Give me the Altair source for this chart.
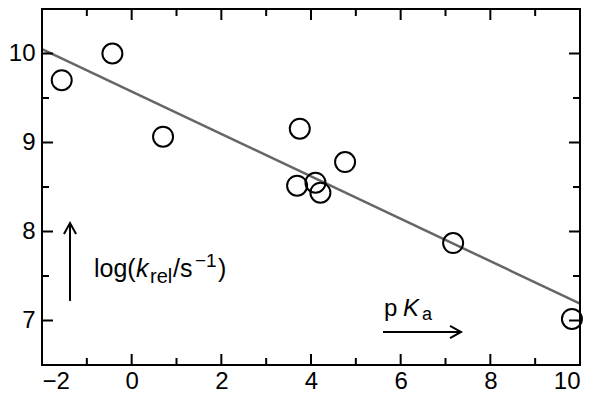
import altair as alt
import pandas as pd

# ---- data ----
pka = [-1.56, -0.43, 0.70, 3.75, 4.76, 3.69, 4.10, 4.21, 7.17, 9.82]
log_k = [9.70, 10.00, 9.065, 9.155, 8.78, 8.515, 8.548, 8.436, 7.87, 7.017]
fit_x = [-2, 10]
fit_y = [10.05, 7.19]
x_major = [-2, 0, 2, 4, 6, 8, 10]
x_minor = [-1, 1, 3, 5, 7, 9]
y_major = [7, 8, 9, 10]
y_minor = [7.5, 8.5, 9.5]

# annotation anchors (data units)
up_arrow_x = [-1.375]
up_arrow_y = [7.22, 8.095]
right_arrow_x = [5.606, 7.346]
right_arrow_y = [6.871]
ylab_anchor = (-0.84, 7.489)
xlab_anchor = (5.629, 7.051)

W, H = 538, 356
FONT = "Liberation Sans"

xs = alt.Scale(domain=[-2, 10], nice=False, zero=False)
ys = alt.Scale(domain=[6.5, 10.5], nice=False, zero=False)
xaxis = alt.Axis(values=x_major, ticks=False, domain=False, grid=False, title=None,
                 labelFont=FONT, labelFontSize=24, labelColor="black", labelPadding=4,
                 labelExpr="replace(datum.label, '-', '\u2013')")
yaxis = alt.Axis(values=y_major, ticks=False, domain=False, grid=False, title=None,
                 labelFont=FONT, labelFontSize=24, labelColor="black", labelPadding=7)

pts = pd.DataFrame({"x": pka, "y": log_k})
fit = pd.DataFrame({"x": fit_x, "y": fit_y})

line = alt.Chart(fit).mark_line(color="#666666", strokeWidth=2.5, clip=True).encode(
    x=alt.X("x:Q", scale=xs, axis=xaxis), y=alt.Y("y:Q", scale=ys, axis=yaxis))
points = alt.Chart(pts).mark_point(shape="circle", filled=False, color="black",
                                    strokeWidth=2, size=400, opacity=1).encode(
    x=alt.X("x:Q", scale=xs, axis=xaxis), y=alt.Y("y:Q", scale=ys, axis=yaxis))

def yticks(vals, L):
    d = pd.DataFrame({"v": vals})
    left = alt.Chart(d).mark_rule(color="black", strokeWidth=2).encode(
        y=alt.Y("v:Q", scale=ys, axis=yaxis), x=alt.value(0), x2=alt.value(L))
    right = alt.Chart(d).mark_rule(color="black", strokeWidth=2).encode(
        y=alt.Y("v:Q", scale=ys, axis=yaxis), x=alt.value(W - L), x2=alt.value(W))
    return [left, right]

def xticks(vals, L):
    d = pd.DataFrame({"v": vals})
    bot = alt.Chart(d).mark_rule(color="black", strokeWidth=2).encode(
        x=alt.X("v:Q", scale=xs, axis=xaxis), y=alt.value(H - L), y2=alt.value(H))
    top = alt.Chart(d).mark_rule(color="black", strokeWidth=2).encode(
        x=alt.X("v:Q", scale=xs, axis=xaxis), y=alt.value(0), y2=alt.value(L))
    return [bot, top]

ticks = yticks(y_major, 11) + yticks(y_minor, 7) + xticks(x_major, 11) + xticks(x_minor, 7)

# plot frame
frame_src = pd.DataFrame({"k": [0]})
frame = [
    alt.Chart(frame_src).mark_rule(color="black", strokeWidth=2).encode(
        x=alt.value(0), y=alt.value(0), y2=alt.value(H)),
    alt.Chart(frame_src).mark_rule(color="black", strokeWidth=2).encode(
        x=alt.value(W), y=alt.value(0), y2=alt.value(H)),
    alt.Chart(frame_src).mark_rule(color="black", strokeWidth=2).encode(
        y=alt.value(0), x=alt.value(0), x2=alt.value(W)),
    alt.Chart(frame_src).mark_rule(color="black", strokeWidth=2).encode(
        y=alt.value(H), x=alt.value(0), x2=alt.value(W)),
]

# arrows
up = pd.DataFrame({"x": up_arrow_x, "y": [up_arrow_y[0]], "y2": [up_arrow_y[1]]})
up_shaft = alt.Chart(up).mark_rule(color="black", strokeWidth=2).encode(
    x=alt.X("x:Q", scale=xs, axis=xaxis), y=alt.Y("y:Q", scale=ys, axis=yaxis), y2="y2:Q")
up_head = alt.Chart(up).mark_point(shape="M -0.55 1 L 0 0 L 0.55 1", filled=False,
                                   color="black", strokeWidth=2, size=484, opacity=1).encode(
    x=alt.X("x:Q", scale=xs, axis=xaxis), y=alt.Y("y2:Q", scale=ys, axis=yaxis))
rt = pd.DataFrame({"x": [right_arrow_x[0]], "x2": [right_arrow_x[1]], "y": right_arrow_y})
rt_shaft = alt.Chart(rt).mark_rule(color="black", strokeWidth=2).encode(
    x=alt.X("x:Q", scale=xs, axis=xaxis), x2="x2:Q", y=alt.Y("y:Q", scale=ys, axis=yaxis))
rt_head = alt.Chart(rt).mark_point(shape="M -1 -0.55 L 0 0 L -1 0.55", filled=False,
                                   color="black", strokeWidth=2, size=484, opacity=1).encode(
    x=alt.X("x2:Q", scale=xs, axis=xaxis), y=alt.Y("y:Q", scale=ys, axis=yaxis))

def piece(anchor, text, dx, dy=0, size=24, italic=False):
    d = pd.DataFrame({"x": [anchor[0]], "y": [anchor[1]], "t": [text]})
    kw = dict(font=FONT, fontSize=size, align="left", baseline="alphabetic",
              color="black", dx=dx, dy=dy)
    if italic:
        kw["fontStyle"] = "italic"
    return alt.Chart(d).mark_text(**kw).encode(
        x=alt.X("x:Q", scale=xs, axis=xaxis), y=alt.Y("y:Q", scale=ys, axis=yaxis), text="t:N")

labels = [
    piece(ylab_anchor, "log(", 0, size=25),
    piece(ylab_anchor, "k", 42, italic=True, size=25),
    piece(ylab_anchor, "rel", 56, dy=6, size=20),
    piece(ylab_anchor, "/s", 79, size=25),
    piece(ylab_anchor, "\u22121", 101, dy=-10, size=19),
    piece(ylab_anchor, ")", 124, size=25),
    piece(xlab_anchor, "p", 0),
    piece(xlab_anchor, "K", 19, italic=True),
    piece(xlab_anchor, "a", 38, dy=4, size=18),
]

chart = alt.layer(line, *ticks, *frame, up_shaft, up_head, rt_shaft, rt_head, *labels, points).properties(
    width=W, height=H,
    background="white",
    autosize=alt.AutoSizeParams(type="none"),
    padding={"left": 34, "top": 1, "right": 13, "bottom": 28},
).configure_view(stroke="black", strokeWidth=2)

chart.save("out.html", embed_options={"renderer": "svg", "actions": False})
